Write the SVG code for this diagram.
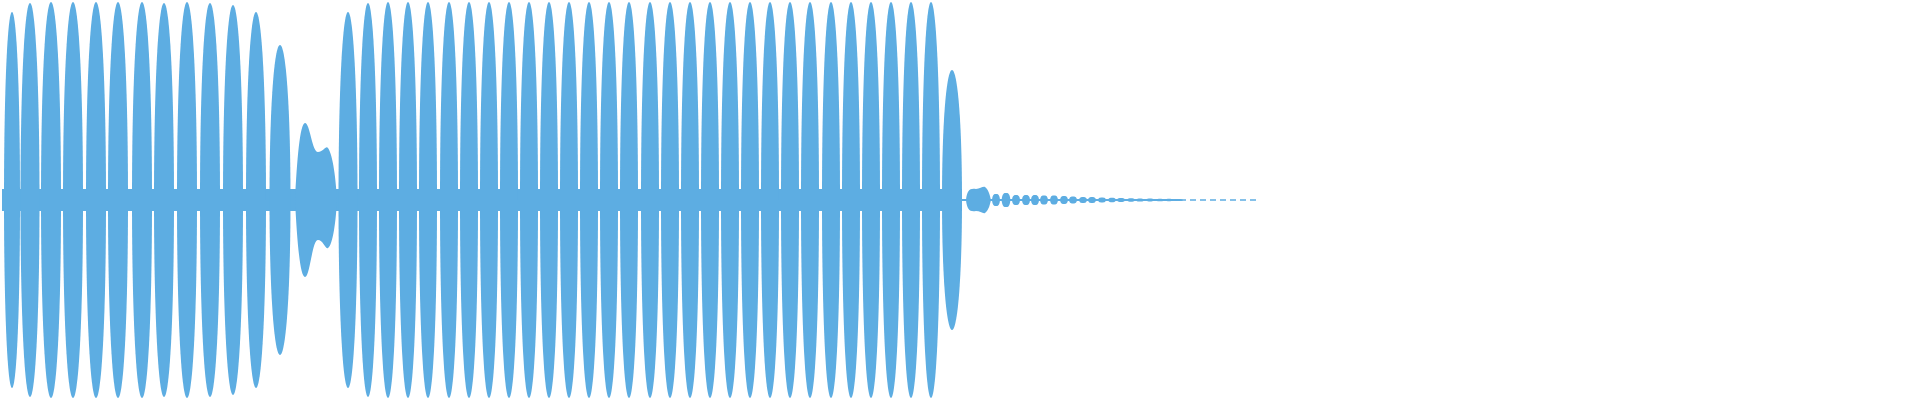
<svg xmlns="http://www.w3.org/2000/svg" xmlns:xlink="http://www.w3.org/1999/xlink" width="1920" height="400" viewBox="0 0 1920 400">
<defs>
<path id="lobe" d="M-10,0 C-10,-0.6 -5.5,-1 0,-1 C5.5,-1 10,-0.6 10,0 C10,0.6 5.5,1 0,1 C-5.5,1 -10,0.6 -10,0Z"/>
<path id="dot" d="M-4,0 C-3.5,-1 -1.5,-1 0,-1 C1.5,-1 3.5,-1 4,0 C3.5,1 1.5,1 0,1 C-1.5,1 -3.5,1 -4,0Z"/>
</defs>
<style>.w{fill:#5dade2}</style>
<rect width="1920" height="400" fill="#fff"/>
<g id="wave" class="w">
<rect x="2" y="189" width="960" height="22"/>
<use href="#lobe" transform="translate(12,200) scale(0.8,188)"/>
<use href="#lobe" transform="translate(30,200) scale(0.95,197)"/>
<use href="#lobe" transform="translate(51,200) scale(1,198)"/>
<use href="#lobe" transform="translate(73,200) scale(1,198)"/>
<use href="#lobe" transform="translate(96,200) scale(1,198)"/>
<use href="#lobe" transform="translate(118,200) scale(1,198)"/>
<use href="#lobe" transform="translate(142,200) scale(1,198)"/>
<use href="#lobe" transform="translate(164,200) scale(1,197)"/>
<use href="#lobe" transform="translate(187,200) scale(1,198)"/>
<use href="#lobe" transform="translate(210,200) scale(1,197)"/>
<use href="#lobe" transform="translate(233,200) scale(1,195)"/>
<use href="#lobe" transform="translate(256,200) scale(1,188)"/>
<use href="#lobe" transform="translate(280,200) scale(1.05,155)"/>
<path d="M295,200 C297,160 300,123 305,123 C310,123 312,152 318,152 C323,152 326,145 328,148 C333,155 336,180 337,200 C336,220 333,245 328,248 C326,250 323,240 318,240 C312,240 310,277 305,277 C300,277 297,240 295,200Z"/>
<use href="#lobe" transform="translate(348,200) scale(0.95,188)"/>
<use href="#lobe" transform="translate(368,200) scale(0.9,197)"/>
<use href="#lobe" transform="translate(388,200) scale(0.9,198)"/>
<use href="#lobe" transform="translate(408,200) scale(0.9,198)"/>
<use href="#lobe" transform="translate(428,200) scale(0.9,198)"/>
<use href="#lobe" transform="translate(449,200) scale(0.9,198)"/>
<use href="#lobe" transform="translate(469,200) scale(0.9,198)"/>
<use href="#lobe" transform="translate(489,200) scale(0.9,198)"/>
<use href="#lobe" transform="translate(509,200) scale(0.9,198)"/>
<use href="#lobe" transform="translate(529,200) scale(0.9,198)"/>
<use href="#lobe" transform="translate(549,200) scale(0.9,198)"/>
<use href="#lobe" transform="translate(569,200) scale(0.9,198)"/>
<use href="#lobe" transform="translate(589,200) scale(0.9,198)"/>
<use href="#lobe" transform="translate(609,200) scale(0.9,198)"/>
<use href="#lobe" transform="translate(629,200) scale(0.9,198)"/>
<use href="#lobe" transform="translate(650,200) scale(0.9,198)"/>
<use href="#lobe" transform="translate(670,200) scale(0.9,198)"/>
<use href="#lobe" transform="translate(690,200) scale(0.9,198)"/>
<use href="#lobe" transform="translate(710,200) scale(0.9,198)"/>
<use href="#lobe" transform="translate(730,200) scale(0.9,198)"/>
<use href="#lobe" transform="translate(750,200) scale(0.9,198)"/>
<use href="#lobe" transform="translate(770,200) scale(0.9,198)"/>
<use href="#lobe" transform="translate(790,200) scale(0.9,198)"/>
<use href="#lobe" transform="translate(810,200) scale(0.9,198)"/>
<use href="#lobe" transform="translate(831,200) scale(0.9,198)"/>
<use href="#lobe" transform="translate(851,200) scale(0.9,198)"/>
<use href="#lobe" transform="translate(871,200) scale(0.9,198)"/>
<use href="#lobe" transform="translate(891,200) scale(0.9,198)"/>
<use href="#lobe" transform="translate(911,200) scale(0.9,198)"/>
<use href="#lobe" transform="translate(931,200) scale(0.9,198)"/>
<use href="#lobe" transform="translate(952,200) scale(1,130)"/>
<path d="M966,200 C967,190 970,188 976,189 C980,189 983,186 985,187 C989,190 990,196 991,200 C990,204 989,210 985,213 C983,214 980,211 976,211 C970,212 967,210 966,200Z"/>
<rect x="960" y="199" width="220" height="2"/>
<use href="#dot" transform="translate(996,200) scale(1,6)"/>
<use href="#dot" transform="translate(1006,200) scale(1.1,7)"/>
<use href="#dot" transform="translate(1016,200) scale(1,5)"/>
<use href="#dot" transform="translate(1026,200) scale(1,5)"/>
<use href="#dot" transform="translate(1035,200) scale(1,5)"/>
<use href="#dot" transform="translate(1044,200) scale(1,4.5)"/>
<use href="#dot" transform="translate(1054,200) scale(1,4.5)"/>
<use href="#dot" transform="translate(1064,200) scale(1,4)"/>
<use href="#dot" transform="translate(1073,200) scale(1,3.5)"/>
<use href="#dot" transform="translate(1083,200) scale(1,3)"/>
<use href="#dot" transform="translate(1092,200) scale(1,3)"/>
<use href="#dot" transform="translate(1102,200) scale(1,2.5)"/>
<use href="#dot" transform="translate(1112,200) scale(1,2.2)"/>
<use href="#dot" transform="translate(1121,200) scale(1,2)"/>
<use href="#dot" transform="translate(1131,200) scale(1,1.8)"/>
<use href="#dot" transform="translate(1140,200) scale(1,1.6)"/>
<use href="#dot" transform="translate(1150,200) scale(1,1.4)"/>
<use href="#dot" transform="translate(1160,200) scale(1,1.3)"/>
<use href="#dot" transform="translate(1169,200) scale(1,1.2)"/>
<use href="#dot" transform="translate(1179,200) scale(1,1.1)"/>
<line x1="1180" y1="200" x2="1260" y2="200" stroke="#5dade2" stroke-width="1.5" stroke-dasharray="6,4"/>
</g>
</svg>
